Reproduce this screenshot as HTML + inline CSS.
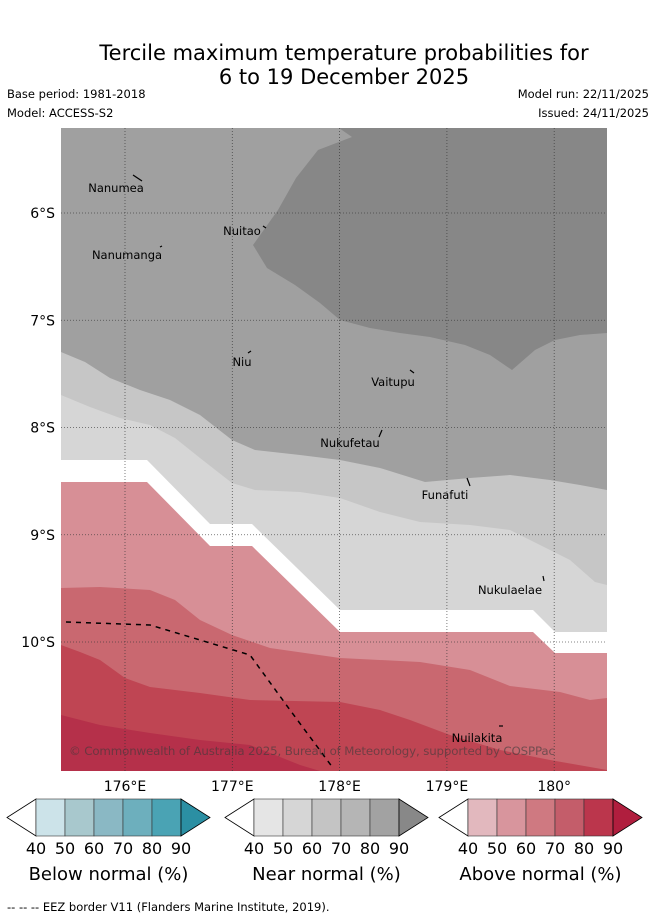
<!DOCTYPE html>
<html><head><meta charset="utf-8"><style>
body{margin:0;background:#fff;width:655px;height:919px;overflow:hidden;font-family:"DejaVu Sans","Liberation Sans",sans-serif;}
svg{display:block}
</style></head><body>
<svg id="c" width="655" height="919" xmlns="http://www.w3.org/2000/svg">
<text x="344" y="60" font-size="21" text-anchor="middle">Tercile maximum temperature probabilities for</text>
<text x="344" y="84" font-size="21" text-anchor="middle">6 to 19 December 2025</text>
<text x="7" y="98" font-size="11.5">Base period: 1981-2018</text>
<text x="7" y="117" font-size="11.5">Model: ACCESS-S2</text>
<text x="649" y="98" font-size="11.5" text-anchor="end">Model run: 22/11/2025</text>
<text x="649" y="117" font-size="11.5" text-anchor="end">Issued: 24/11/2025</text>
<defs><clipPath id="mc"><rect x="61" y="128" width="546" height="643"/></clipPath></defs>
<g id="map" clip-path="url(#mc)">
<rect x="61" y="128" width="546" height="643" fill="#a0a0a0"/>
</g>
<g id="labels"></g>
<text x="7" y="911" font-size="11.5">--  --  -- EEZ border V11 (Flanders Marine Institute, 2019).</text>
</svg>
<script>
const lonTicks=[176,177,178,179,180];
const lonLabels=["176°E","177°E","178°E","179°E","180°"];
const latTicks=[6,7,8,9,10];
const latLabels=["6°S","7°S","8°S","9°S","10°S"];
const cbTicks=["40","50","60","70","80","90"];
const belowColors=["#cce3e9","#a8c8cd","#8ab8c4","#6dafbd","#4aa3b4","#2b8fa3"];
const nearColors=["#e5e5e5","#d6d6d6","#c4c4c4","#b5b5b5","#a2a2a2","#888888"];
const aboveColors=["#e2b8be","#d8959d","#cf7981","#c45d6a","#bb364c","#b01e3e"];
const px2lon=p=>176+(p-125)/107.3, py2lat=p=>6+(p-213)/107.25;
const x=lon=>125+(lon-176)*107.3, y=lat=>213+(lat-6)*107.25;
const P=a=>a.map(([a1,b1])=>[px2lon(a1),py2lat(b1)]);
const regions=[
 {name:"near-90-region",fill:"#878787",pts:P([[339,128],[352,137],[318,150],[296,178],[278,210],[253,245],[267,268],[295,285],[320,303],[340,320],[370,328],[400,333],[430,337],[465,345],[490,355],[512,370],[535,350],[555,340],[580,335],[607,333],[607,128]])},
 {name:"near-60-region",fill:"#c6c6c6",pts:P([[61,352],[85,362],[110,378],[140,390],[170,400],[200,415],[232,440],[255,450],[300,455],[340,460],[380,468],[425,482],[470,478],[510,475],[550,480],[580,485],[607,490],[607,771],[61,771]])},
 {name:"near-50-region",fill:"#d6d6d6",pts:P([[61,395],[90,407],[120,418],[150,425],[175,438],[200,458],[232,483],[255,490],[300,492],[340,498],[380,512],[420,522],[470,525],[510,530],[540,545],[570,560],[595,582],[607,585],[607,771],[61,771]])},
 {name:"neutral-region",fill:"#ffffff",pts:P([[61,460],[147,460],[210,524],[252,524],[340,610],[533,610],[555,632],[607,632],[607,771],[61,771]])},
 {name:"above-50-region",fill:"#d78f96",pts:P([[61,482],[147,482],[210,546],[252,546],[340,632],[533,632],[555,653],[607,653],[607,771],[61,771]])},
 {name:"above-60-region",fill:"#c96870",pts:P([[61,588],[100,587],[150,590],[175,600],[200,620],[232,635],[270,648],[340,658],[420,662],[470,670],[510,686],[560,692],[590,700],[607,698],[607,771],[61,771]])},
 {name:"above-70-region",fill:"#bf4553",pts:P([[61,645],[80,652],[100,660],[125,678],[150,687],[200,693],[250,700],[340,702],[380,710],[410,720],[450,735],[500,750],[550,760],[607,770],[607,771],[61,771]])},
 {name:"above-80-region",fill:"#b5304a",pts:P([[61,715],[100,725],[150,733],[200,740],[250,745],[300,765],[320,771],[61,771]])}
];
const eez=P([[66,622],[150,625],[200,640],[250,655],[290,710],[333,768]]);
const islands=[["Nanumea",116,192,[[133,175],[142,181]]],["Nuitao",242,235,[[263,226],[266,228]]],["Nanumanga",127,259,[[160,247],[162,246]]],["Niu",242,366,[[248,353],[251,351]]],["Vaitupu",393,386,[[410,370],[414,373]]],["Nukufetau",350,447,[[379,437],[382,430]]],["Funafuti",445,499,[[467,478],[470,486]]],["Nukulaelae",510,594,[[543,576],[544,581]]],["Nuilakita",477,742,[[499,726],[503,726]]]];
const NS="http://www.w3.org/2000/svg";
const map=document.getElementById('map'), lab=document.getElementById('labels'), svg=document.getElementById('c');
function mk(t,a,p){const e=document.createElementNS(NS,t);for(const k in a)e.setAttribute(k,a[k]);(p||map).appendChild(e);return e;}
const pth=pts=>pts.map((q,i)=>(i?'L':'M')+x(q[0]).toFixed(1)+' '+y(q[1]).toFixed(1)).join(' ');
regions.forEach(r=>{const e=mk('path',{d:pth(r.pts)+'Z',fill:r.fill});

});
lonTicks.forEach((l,i)=>{const e=mk('line',{x1:x(l),x2:x(l),y1:128,y2:771,stroke:'#333','stroke-width':0.8,'stroke-dasharray':'1,2','stroke-opacity':0.8});


const t=mk('text',{x:x(l),y:791,'font-size':14,'text-anchor':'middle'},lab);t.textContent=lonLabels[i];

});
latTicks.forEach((l,i)=>{const e=mk('line',{x1:61,x2:607,y1:y(l),y2:y(l),stroke:'#333','stroke-width':0.8,'stroke-dasharray':'1,2','stroke-opacity':0.8});


const t=mk('text',{x:55,y:y(l)+5,'font-size':14,'text-anchor':'end'},lab);t.textContent=latLabels[i];

});
const ez=mk('path',{d:pth(eez),fill:'none',stroke:'#000','stroke-width':1.5,'stroke-dasharray':'5,5'});


islands.forEach(([n,tx,ty,seg])=>{const l=mk('path',{d:'M'+seg[0][0]+' '+seg[0][1]+'L'+seg[1][0]+' '+seg[1][1],stroke:'#000','stroke-width':1.2,fill:'none'});


const t=mk('text',{x:tx,y:ty,'font-size':11.5,'text-anchor':'middle'});t.textContent=n;

});
const cp=mk('text',{x:69,y:755,'font-size':11.8,fill:'#3a3a3a','fill-opacity':0.6,textLength:486});cp.textContent="© Commonwealth of Australia 2025, Bureau of Meteorology, supported by COSPPac";


const bars=[[7,belowColors,"Below normal (%)"],[225,nearColors,"Near normal (%)"],[439,aboveColors,"Above normal (%)"]];
bars.forEach(([x0,cols,title])=>{const g=mk('g',{},svg);


const y0=799,y1=836,ym=817.5,b0=x0+29,w=29;
const lt=mk('path',{d:`M${x0} ${ym}L${b0} ${y0}L${b0} ${y1}Z`,fill:'#fff',stroke:'#000','stroke-width':0.8},g);


for(let i=0;i<5;i++){const r=mk('rect',{x:b0+i*w,y:y0,width:w,height:y1-y0,fill:cols[i],stroke:'#333','stroke-width':0.6},g);

}
const rt=mk('path',{d:`M${b0+5*w} ${y0}L${b0+6*w} ${ym}L${b0+5*w} ${y1}Z`,fill:cols[5],stroke:'#000','stroke-width':0.8},g);


cbTicks.forEach((t,i)=>{const e=mk('text',{x:b0+i*w,y:854,'font-size':16,'text-anchor':'middle'},g);e.textContent=t;

});
const tt=mk('text',{x:b0+2.5*w,y:880,'font-size':18,'text-anchor':'middle'},g);tt.textContent=title;

});
</script>
</body></html>
